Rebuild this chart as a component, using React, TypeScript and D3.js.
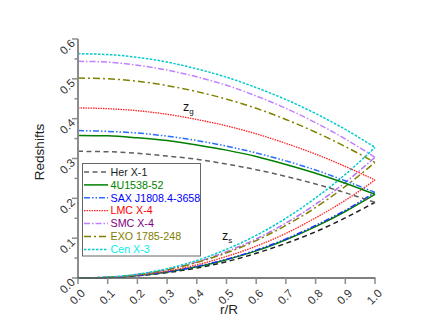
import React, { useEffect, useRef } from 'react';
import * as d3 from 'd3';

// radial coordinate r/R
const rValues = [0, 0.1, 0.2, 0.3, 0.4, 0.5, 0.6, 0.7, 0.8, 0.9, 1.0];

const starNames = ['Her X-1', '4U1538-52', 'SAX J1808.4-3658', 'LMC X-4', 'SMC X-4', 'EXO 1785-248', 'Cen X-3'];

// gravitational redshift z_g
const zgHer = [0.318, 0.317, 0.313, 0.306, 0.298, 0.286, 0.272, 0.255, 0.236, 0.214, 0.190];
const zg4U = [0.358, 0.357, 0.352, 0.345, 0.334, 0.321, 0.305, 0.285, 0.263, 0.238, 0.210];
const zgSAX = [0.370, 0.368, 0.364, 0.356, 0.345, 0.331, 0.314, 0.294, 0.271, 0.244, 0.215];
const zgLMC = [0.427, 0.425, 0.420, 0.411, 0.398, 0.382, 0.362, 0.338, 0.311, 0.280, 0.246];
const zgSMC = [0.544, 0.542, 0.534, 0.522, 0.505, 0.484, 0.457, 0.426, 0.390, 0.349, 0.303];
const zgEXO = [0.502, 0.500, 0.494, 0.483, 0.468, 0.449, 0.426, 0.398, 0.366, 0.330, 0.290];
const zgCen = [0.563, 0.561, 0.554, 0.542, 0.525, 0.504, 0.478, 0.448, 0.413, 0.373, 0.328];

// surface redshift z_s
const zsHer = [0, 0.0012, 0.0055, 0.0135, 0.025, 0.041, 0.062, 0.087, 0.116, 0.151, 0.190];
const zs4U = [0, 0.0013, 0.0061, 0.0149, 0.028, 0.046, 0.068, 0.096, 0.129, 0.167, 0.210];
const zsSAX = [0, 0.0014, 0.0062, 0.0153, 0.029, 0.047, 0.070, 0.098, 0.132, 0.170, 0.215];
const zsLMC = [0, 0.0015, 0.0071, 0.0175, 0.033, 0.054, 0.080, 0.112, 0.151, 0.195, 0.246];
const zsSMC = [0, 0.0019, 0.0088, 0.0215, 0.040, 0.066, 0.098, 0.138, 0.185, 0.240, 0.303];
const zsEXO = [0, 0.0018, 0.0084, 0.0206, 0.039, 0.063, 0.094, 0.132, 0.177, 0.230, 0.290];
const zsCen = [0, 0.0021, 0.0095, 0.0233, 0.044, 0.072, 0.107, 0.150, 0.201, 0.260, 0.328];

const zgSeries = [zgHer, zg4U, zgSAX, zgLMC, zgSMC, zgEXO, zgCen];
const zsSeries = [zsHer, zs4U, zsSAX, zsLMC, zsSMC, zsEXO, zsCen];

const xTicks = [0, 0.1, 0.2, 0.3, 0.4, 0.5, 0.6, 0.7, 0.8, 0.9, 1.0];
const yTicks = [0, 0.1, 0.2, 0.3, 0.4, 0.5, 0.6];

// line styles
const lineColors = ['#606060', '#008000', '#2a6cff', '#ff2020', '#c080ff', '#808000', '#00cccc'];
const zsColors = ['#202020', '#008000', '#1a2cff', '#ff2020', '#b070f0', '#808000', '#00cccc'];
const textColors = ['#222222', '#008000', '#0000ff', '#ff0000', '#800080', '#808000', '#00eeee'];
const dashes = ['5,3.5', null, '6,2,1.5,2,1.5,2', '1.5,1', '6,2,1.5,2', '7,3,2,3', '2.5,1.5'];

const App = () => {
  const svgRef = useRef(null);

  useEffect(() => {
    const width = 436;
    const height = 334;
    const svg = d3.select(svgRef.current)
      .attr('width', width)
      .attr('height', height);
    svg.selectAll('*').remove();

    const x = d3.scaleLinear().domain([0, 1]).range([78, 375]);
    const y = d3.scaleLinear().domain([0, 0.6]).range([278, 39]);
    const font = 'Liberation Sans, Arial, sans-serif';

    const line = d3.line()
      .x((d, i) => x(rValues[i]))
      .y(d => y(d))
      .curve(d3.curveMonotoneX);

    const plot = svg.append('g');
    const drawSeries = (series, colors) => {
      series.forEach((s, i) => {
        plot.append('path')
          .attr('d', line(s))
          .attr('fill', 'none')
          .attr('stroke', colors[i])
          .attr('stroke-width', i === 3 ? 1.3 : 1.5)
          .attr('stroke-dasharray', dashes[i]);
      });
    };
    drawSeries(zsSeries, zsColors);
    drawSeries(zgSeries, lineColors);

    // y axis
    const yAxis = svg.append('g');
    yAxis.append('line')
      .attr('x1', 78).attr('x2', 78)
      .attr('y1', y(0.6)).attr('y2', y(0) + 1)
      .attr('stroke', '#8c8c8c').attr('stroke-width', 2);
    d3.range(0, 0.601, 0.05).forEach(v => {
      const major = Math.abs(v * 10 - Math.round(v * 10)) < 1e-6;
      yAxis.append('line')
        .attr('x1', 78).attr('x2', major ? 72 : 74.5)
        .attr('y1', y(v)).attr('y2', y(v))
        .attr('stroke', '#8c8c8c').attr('stroke-width', 1.5);
    });
    yTicks.forEach(v => {
      yAxis.append('text')
        .attr('transform', `translate(73,${y(v) + 2}) rotate(-45)`)
        .attr('text-anchor', 'end')
        .attr('dy', '0.35em')
        .attr('font-family', font)
        .attr('font-size', 11.5)
        .attr('fill', '#333')
        .text(d3.format('.1f')(v));
    });

    // x axis
    const xAxis = svg.append('g');
    xAxis.append('line')
      .attr('x1', 77).attr('x2', 375.5)
      .attr('y1', 278).attr('y2', 278)
      .attr('stroke', '#555').attr('stroke-width', 1.5);
    xTicks.forEach(v => {
      xAxis.append('line')
        .attr('x1', x(v)).attr('x2', x(v))
        .attr('y1', 278).attr('y2', 284)
        .attr('stroke', '#8c8c8c').attr('stroke-width', 1.5);
      xAxis.append('text')
        .attr('transform', `translate(${x(v) + 5},${291}) rotate(-45)`)
        .attr('text-anchor', 'end')
        .attr('dy', '0.35em')
        .attr('font-family', font)
        .attr('font-size', 11.5)
        .attr('fill', '#333')
        .text(d3.format('.1f')(v));
    });

    // axis titles
    svg.append('text')
      .attr('transform', `translate(44,${152}) rotate(-90)`)
      .attr('text-anchor', 'middle')
      .attr('font-family', font)
      .attr('font-size', 13.5)
      .attr('fill', '#222')
      .text('Redshifts');
    svg.append('text')
      .attr('x', 229).attr('y', 314)
      .attr('text-anchor', 'middle')
      .attr('font-family', font)
      .attr('font-size', 13.5)
      .attr('fill', '#222')
      .text('r/R');

    // curve annotations
    const zg = svg.append('text')
      .attr('x', 183).attr('y', 111)
      .attr('font-family', font).attr('font-size', 12.5).attr('fill', '#111');
    zg.append('tspan').text('z');
    zg.append('tspan').attr('font-size', 8).attr('dy', 3).text('g');
    const zs = svg.append('text')
      .attr('x', 222).attr('y', 240)
      .attr('font-family', font).attr('font-size', 12.5).attr('fill', '#111');
    zs.append('tspan').text('z');
    zs.append('tspan').attr('font-size', 8).attr('dy', 3).text('s');

    // legend
    const legend = svg.append('g');
    legend.append('rect')
      .attr('x', 82.5).attr('y', 163.5)
      .attr('width', 118).attr('height', 92.5)
      .attr('fill', 'white')
      .attr('stroke', '#666').attr('stroke-width', 1);
    const item = legend.selectAll('.legend')
      .data(starNames)
      .enter()
      .append('g')
      .attr('class', 'legend')
      .attr('transform', (d, i) => `translate(0,${172 + i * 12.9})`);
    item.append('line')
      .attr('x1', 84).attr('x2', 108)
      .attr('y1', 0).attr('y2', 0)
      .attr('stroke', (d, i) => lineColors[i])
      .attr('stroke-width', (d, i) => (i === 3 ? 1.3 : 1.5))
      .attr('stroke-dasharray', (d, i) => dashes[i]);
    item.append('text')
      .attr('x', 110.5)
      .attr('y', 0)
      .attr('dy', '0.35em')
      .attr('font-family', font)
      .attr('font-size', 10.7)
      .attr('fill', (d, i) => textColors[i])
      .text(d => d);
  }, []);

  return (
    <div style={{ position: 'absolute', left: 0, top: 0 }}>
      <svg ref={svgRef} style={{ display: 'block' }}></svg>
    </div>
  );
};

export default App;
